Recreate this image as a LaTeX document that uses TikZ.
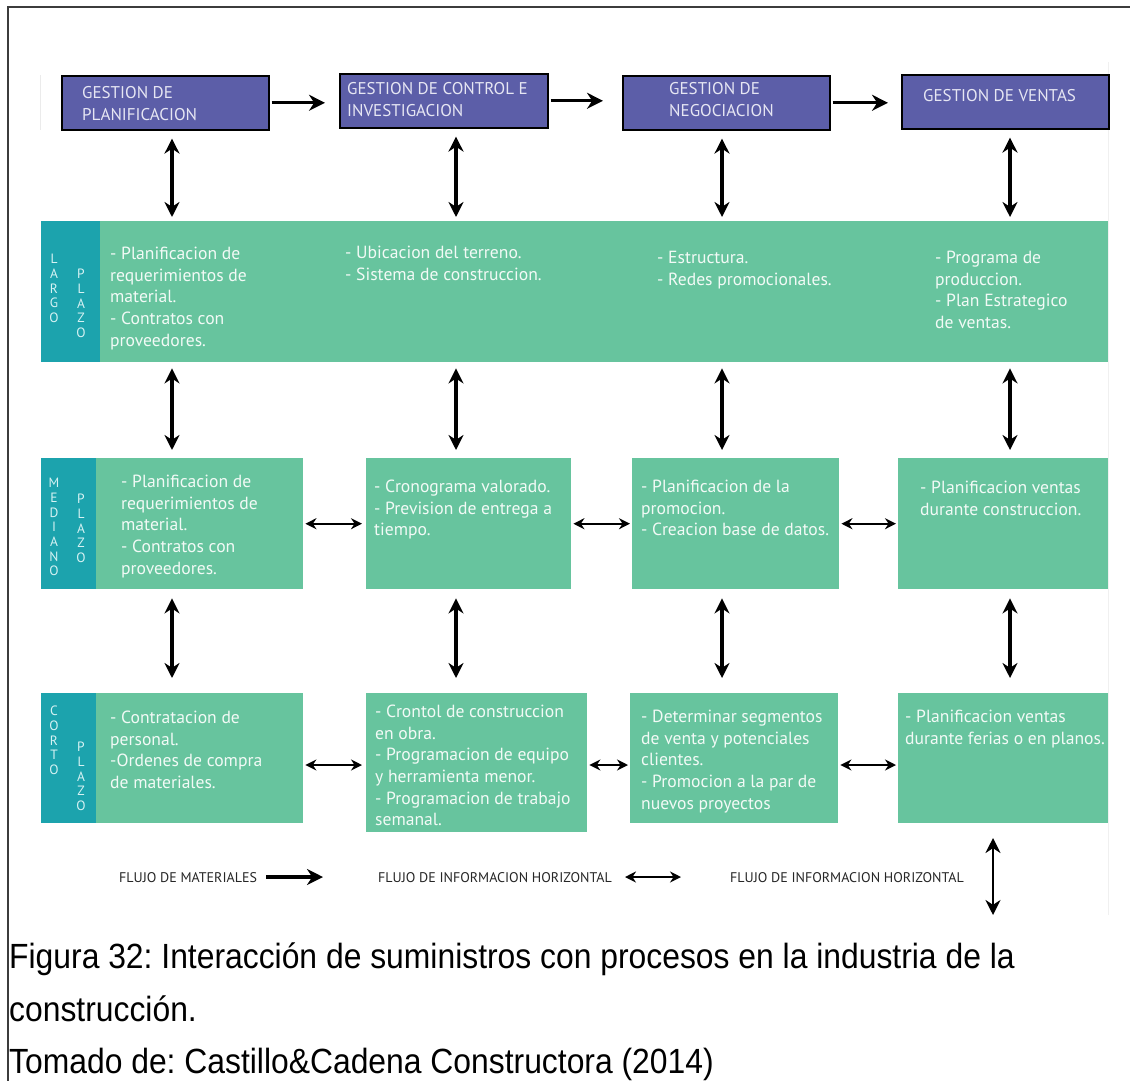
\documentclass[tikz,border=0pt]{standalone}
\usepackage{fontspec}
\setmainfont{Liberation Sans}
\newfontfamily\diag{PT Sans}
\usetikzlibrary{arrows.meta}
\frenchspacing
\definecolor{hdrblue}{HTML}{5C5EA8}
\definecolor{cellgreen}{HTML}{67C49E}
\definecolor{bandteal}{HTML}{1CA3AD}
\definecolor{celltext}{HTML}{F2FAF6}
\definecolor{hdrtext}{HTML}{E6E6F3}
\definecolor{lettext}{HTML}{D6F2F3}
\definecolor{framegray}{HTML}{3C3C3C}
\begin{document}
\begin{tikzpicture}[x=1pt,y=-1pt,
  hbox/.style={draw=black,line width=1.6pt,fill=hdrblue,inner sep=0pt,anchor=north west},
  gbox/.style={fill=cellgreen,inner sep=0pt,anchor=north west},
  tbox/.style={fill=bandteal,inner sep=0pt,anchor=north west},
  htxt/.style={anchor=north west,inner sep=0pt,align=left,text=hdrtext,
    font=\diag\fontsize{17}{22.5}\selectfont},
  ctxt/.style={anchor=north west,inner sep=0pt,align=left,text=celltext,
    font=\diag\fontsize{17.6}{21.6}\selectfont},
  vlet/.style={anchor=north,inner sep=0pt,align=center,text=lettext,
    font=\diag\fontsize{13.5}{14.7}\selectfont},
  legtxt/.style={anchor=west,inner sep=0pt,text=black!85,
    font=\diag\fontsize{14}{15}\selectfont},
  varr/.style={{Stealth[length=15pt,width=15pt]}-{Stealth[length=15pt,width=15pt]},line width=3.2pt},
  harr/.style={{Stealth[length=11pt,width=11pt]}-{Stealth[length=11pt,width=11pt]},line width=2.2pt},
  farr/.style={-{Stealth[length=16pt,width=16pt]},line width=3.2pt}]
\useasboundingbox (0,0) rectangle (1130,1081);

% page frame (left and top rules) and faint edges of the inset
\draw[framegray,line width=1.6pt] (8,1081) -- (8,7) -- (1130,7);
\draw[black!8,line width=0.8pt] (40,75) -- (40,130);
\draw[black!6,line width=0.8pt] (1108,62) -- (1108,915);

% column and row guides for the vertical arrows
\coordinate (k1) at (172,0);
\coordinate (k2) at (456,0);
\coordinate (k3) at (722,0);
\coordinate (k4) at (1010,0);
\coordinate (kc) at (0,765);

% management headers
\node[hbox,minimum width=207,minimum height=54] (h1) at (61,75) {};
\node[hbox,minimum width=208,minimum height=54] (h2) at (339,73) {};
\node[hbox,minimum width=207,minimum height=54] (h3) at (622,75) {};
\node[hbox,minimum width=207,minimum height=54] (h4) at (901,74) {};
\node[htxt] (h1t) at (82,86) {GESTION DE\\PLANIFICACION};
\node[htxt] (h2t) at (347,82) {GESTION DE CONTROL E\\INVESTIGACION};
\node[htxt] (h3t) at (669,82) {GESTION DE\\NEGOCIACION};
\node[htxt] (h4t) at (923,89) {GESTION DE VENTAS};

% long term band
\node[gbox,minimum width=1067,minimum height=141] (L) at (41,221) {};
\node[tbox,minimum width=59,minimum height=141] (Lt) at (41,221) {};
\node[vlet] (Lv1) at (54,254) {L\\A\\R\\G\\O};
\node[vlet] (Lv2) at (81,269) {P\\L\\A\\Z\\O};
\node[ctxt] (L1) at (110,247) {- Planificacion de\\requerimientos de\\material.\\- Contratos con\\proveedores.};
\node[ctxt] (L2) at (345,246) {- Ubicacion del terreno.\\- Sistema de construccion.};
\node[ctxt] (L3) at (657,251) {- Estructura.\\- Redes promocionales.};
\node[ctxt] (L4) at (935,251) {- Programa de\\produccion.\\- Plan Estrategico\\de ventas.};

% medium term row
\node[gbox,minimum width=262,minimum height=131] (m1) at (41,458) {};
\node[tbox,minimum width=55,minimum height=131] (m1t) at (41,458) {};
\node[gbox,minimum width=205,minimum height=131] (m2) at (366,458) {};
\node[gbox,minimum width=207,minimum height=131] (m3) at (632,458) {};
\node[gbox,minimum width=210,minimum height=131] (m4) at (898,458) {};
\node[vlet] (mv1) at (54,478) {M\\E\\D\\I\\A\\N\\O};
\node[vlet] (mv2) at (81,494) {P\\L\\A\\Z\\O};
\node[ctxt] (m1x) at (121,475) {- Planificacion de\\requerimientos de\\material.\\- Contratos con\\proveedores.};
\node[ctxt] (m2x) at (374,480) {- Cronograma valorado.\\- Prevision de entrega a\\tiempo.};
\node[ctxt] (m3x) at (641,480) {- Planificacion de la\\promocion.\\- Creacion base de datos.};
\node[ctxt] (m4x) at (920,481) {- Planificacion ventas\\durante construccion.};

% short term row
\node[gbox,minimum width=262,minimum height=130] (c1) at (41,693) {};
\node[tbox,minimum width=55,minimum height=130] (c1t) at (41,693) {};
\node[gbox,minimum width=221,minimum height=139] (c2) at (366,693) {};
\node[gbox,minimum width=208,minimum height=130] (c3) at (630,693) {};
\node[gbox,minimum width=210,minimum height=130] (c4) at (898,693) {};
\node[vlet] (cv1) at (54,706) {C\\O\\R\\T\\O};
\node[vlet] (cv2) at (81,742) {P\\L\\A\\Z\\O};
\node[ctxt] (c1x) at (110,711) {- Contratacion de\\personal.\\-Ordenes de compra\\de materiales.};
\node[ctxt] (c2x) at (375,705) {- Crontol de construccion\\en obra.\\- Programacion de equipo\\y herramienta menor.\\- Programacion de trabajo\\semanal.};
\node[ctxt] (c3x) at (641,710) {- Determinar segmentos\\de venta y potenciales\\clientes.\\- Promocion a la par de\\nuevos proyectos};
\node[ctxt] (c4x) at (905,710) {- Planificacion ventas\\durante ferias o en planos.};

% flow of materials between headers
\draw[farr,shorten <=2pt,shorten >=14pt] (h1.east) -- (h1.east -| h2.west);
\draw[farr,shorten <=2pt,shorten >=19pt] (h2.east) -- (h2.east -| h3.west);
\draw[farr,shorten <=2pt,shorten >=13pt] (h3.east) -- (h3.east -| h4.west);

% vertical information flow
\foreach \k/\h in {k1/h1,k2/h2,k3/h3,k4/h4}{
  \draw[varr,shorten <=8pt,shorten >=4pt] (\h.south -| \k) -- (L.north -| \k);
  \draw[varr,shorten <=6pt,shorten >=8pt] (L.south -| \k) -- (m1.north -| \k);
  \draw[varr,shorten <=9pt,shorten >=15pt] (m1.south -| \k) -- (c1.north -| \k);
}

% horizontal information flow
\draw[harr,shorten <=2pt,shorten >=4pt] (m1.east) -- (m2.west);
\draw[harr,shorten <=2pt,shorten >=2pt] (m2.east) -- (m3.west);
\draw[harr,shorten <=2pt,shorten >=2pt] (m3.east) -- (m4.west);
\draw[harr,shorten <=2pt,shorten >=4pt] (c1.east |- kc) -- (c2.west |- kc);
\draw[harr,shorten <=2pt,shorten >=2pt] (c2.east |- kc) -- (c3.west |- kc);
\draw[harr,shorten <=2pt,shorten >=2pt] (c3.east |- kc) -- (c4.west |- kc);

% legend
\node[legtxt] (lg1) at (119,878) {FLUJO DE MATERIALES};
\node[legtxt] (lg2) at (378,878) {FLUJO DE INFORMACION HORIZONTAL};
\node[legtxt] (lg3) at (730,878) {FLUJO DE INFORMACION HORIZONTAL};
\coordinate (lga) at (266,877);
\coordinate (lgb) at (323,877);
\coordinate (lgc) at (625,877);
\coordinate (lgd) at (681,877);
\coordinate (lge) at (993,838);
\coordinate (lgf) at (993,915);
\draw[farr] (lga) -- (lgb);
\draw[harr] (lgc) -- (lgd);
\draw[varr,line width=2.4pt] (lge) -- (lgf);

% caption
\node[anchor=north west,inner sep=0pt,align=left,
  font=\fontsize{35}{52.5}\selectfont] (cap) at (9,943)
  {\scalebox{0.91}[1]{Figura 32: Interacción de suministros con procesos en la industria de la}\\
   \scalebox{0.91}[1]{construcción.}\\
   \scalebox{0.91}[1]{Tomado de: Castillo\&Cadena Constructora (2014)}};
\end{tikzpicture}
\end{document}
